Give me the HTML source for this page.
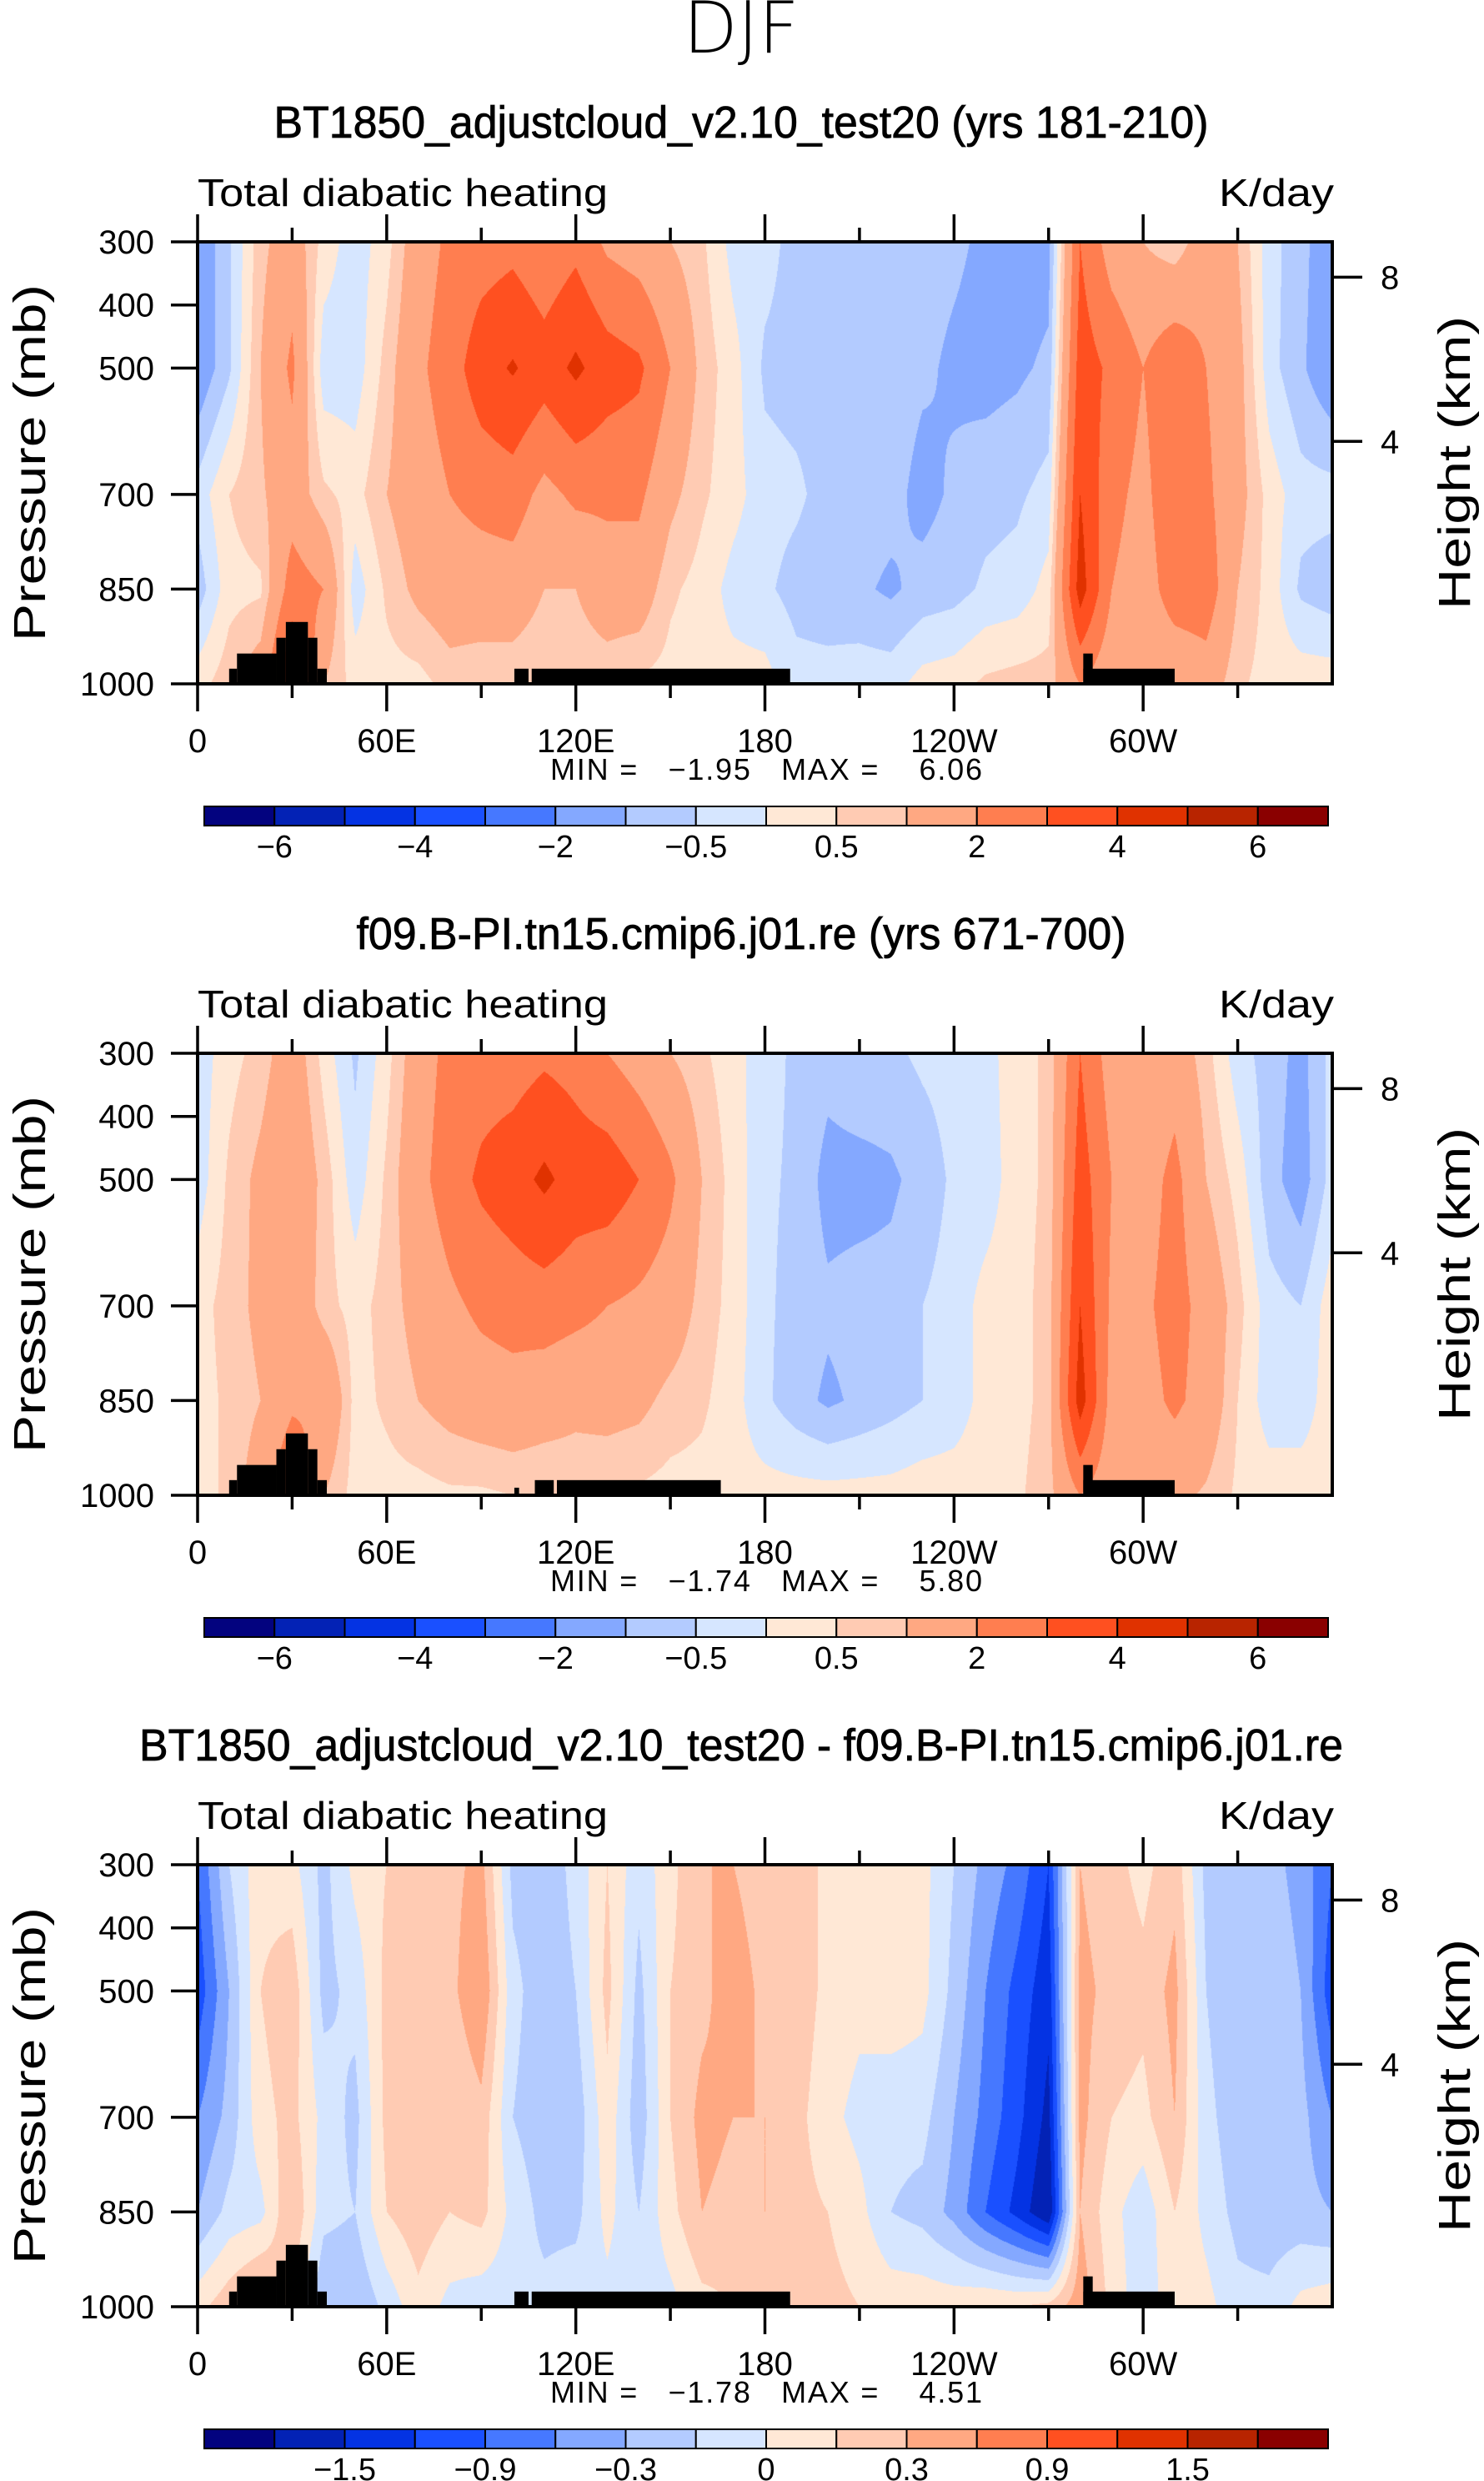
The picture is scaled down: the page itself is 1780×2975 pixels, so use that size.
<!DOCTYPE html>
<html><head><meta charset="utf-8"><style>
html,body{margin:0;padding:0;background:#fff;}
#wrap{position:relative;width:1780px;height:2975px;overflow:hidden;}
canvas{position:absolute;}
svg{position:absolute;left:0;top:0;}
text{font-family:"Liberation Sans",sans-serif;fill:#000;}
</style></head><body>
<div id="wrap">
<canvas id="c0"></canvas>
<canvas id="c1"></canvas>
<canvas id="c2"></canvas>
<svg id="svg" width="1780" height="2975" xmlns="http://www.w3.org/2000/svg">
<text x="889" y="63" font-size="86" text-anchor="middle" textLength="139" lengthAdjust="spacingAndGlyphs" style="font-family:'DejaVu Sans','Liberation Sans',sans-serif;font-weight:200">DJF</text>
</svg>
</div>
<script>
// ---------- data ----------
const pressureLevels = [300, 500, 700, 850, 1000];
const lonNodes = [0,10,20,30,40,50,60,70,80,90,100,110,120,130,140,150,160,170,180,190,200,210,220,230,240,250,260,270,280,290,300,310,320,330,340,350];
// values per longitude node: [300, 500, 700, 850, 1000 mb] in K/day
const fieldA = [
[-1.5,-1.5,-0.3,-0.8,0.3],[-0.6,-0.6,0.5,0.3,0.8],[0.8,1.0,0.9,0.4,1.5],[1.5,2.2,1.5,2.5,4.0],
[0.3,-0.3,0.6,2.0,1.0],[-0.3,-0.3,0.3,-0.3,0.3],[0.3,0.7,1.0,0.6,0.3],[1.5,1.8,1.5,1.2,0.3],
[2.2,2.5,2.0,1.5,0.7],[2.5,3.6,2.3,1.5,0.6],[2.7,4.1,2.5,1.5,0.6],[2.2,3.5,1.7,1.0,0.5],
[2.7,4.2,2.2,1.0,0.6],[1.8,3.5,2.2,1.5,0.6],[1.5,3.2,2.2,1.5,0.4],[1.0,2.0,1.2,0.6,0.3],
[0.6,0.8,0.6,0.3,0.2],[-0.2,0.2,0.2,-0.2,0.2],[-0.3,-0.6,-0.3,-0.4,0.2],[-0.7,-0.7,-0.4,-0.7,-0.3],
[-0.7,-0.7,-0.7,-0.8,-0.3],[-0.7,-0.7,-0.7,-0.9,-0.2],[-0.7,-0.7,-0.8,-1.1,-0.2],[-0.8,-0.9,-1.2,-0.8,0.2],
[-0.9,-1.1,-0.9,-0.7,0.3],[-1.1,-1.2,-0.7,-0.4,0.6],[-1.3,-1.1,-0.6,-0.3,0.7],[-1.2,-0.9,-0.3,0.2,0.7],
[3.0,3.5,4.0,4.5,2.0],[1.5,2.8,2.3,2.0,1.2],[1.0,2.0,1.7,1.5,1.2],[0.6,2.8,2.8,2.5,1.2],
[1.5,2.0,2.2,2.6,1.5],[1.0,1.3,1.3,1.0,0.6],[-0.3,-0.3,0.3,0.3,0.3],[-0.8,-0.9,-0.3,-0.6,0.3]];
const fieldB = [
[-0.3,-0.3,0.3,0.3,0.3],[0.3,0.6,0.7,0.6,0.6],[0.7,1.2,1.2,1.0,1.5],[1.5,1.8,1.8,1.8,3.0],
[0.3,0.8,0.7,2.0,1.0],[-0.6,-0.3,0.3,0.3,0.3],[0.3,0.6,0.7,0.6,0.3],[1.5,1.7,1.3,1.0,0.3],
[2.3,2.5,1.8,1.3,0.4],[2.5,3.2,2.2,1.5,0.4],[2.5,3.6,2.4,1.6,0.5],[2.8,4.2,2.5,1.4,0.5],
[2.6,3.6,2.3,1.2,0.6],[2.0,3.6,2.0,1.3,0.5],[1.5,3.0,1.8,1.2,0.4],[1.0,2.2,1.5,0.8,0.3],
[0.6,1.0,0.8,0.6,0.3],[0.2,0.3,0.3,0.2,0.2],[-0.3,-0.4,-0.4,-0.4,0.2],[-0.6,-0.6,-0.7,-0.8,0.2],
[-0.8,-1.2,-0.9,-1.1,0.2],[-0.6,-1.2,-0.8,-0.9,0.2],[-0.6,-1.1,-0.8,-0.7,0.2],[-0.4,-0.8,-0.5,-0.5,0.3],
[-0.3,-0.4,-0.3,-0.3,0.3],[-0.2,-0.3,0.2,0.2,0.3],[0.3,0.3,0.3,0.3,0.4],[0.6,0.6,0.7,0.7,0.8],
[3.0,3.5,4.0,4.5,2.0],[1.5,2.0,1.8,1.6,1.3],[1.0,1.5,1.8,1.6,1.2],[1.5,2.3,2.4,2.2,1.2],
[0.7,1.0,1.6,1.6,0.9],[-0.3,0.3,0.7,0.5,0.4],[-0.7,-0.8,-0.3,-0.3,0.3],[-1.2,-1.3,-0.5,-0.3,0.3]];
const fieldDiff = [
[-1.2,-1.4,-0.9,-0.6,0.2],[-0.3,-0.6,-0.5,-0.2,0.5],[0.2,0.3,0.2,-0.1,0.8],[0.1,0.5,0.4,0.6,0.3],
[-0.4,-0.4,-0.1,-0.2,-0.6],[0.1,-0.2,-0.4,-0.3,-0.6],[0.3,0.4,0.4,0.3,-0.2],[0.5,0.6,0.6,0.5,0.2],
[0.5,0.5,0.3,0.3,-0.1],[0.7,0.9,0.5,0.4,-0.2],[-0.4,-0.2,-0.3,-0.1,-0.2],[-0.5,-0.5,-0.5,-0.4,-0.2],
[-0.2,-0.3,-0.5,-0.4,-0.1],[0.3,0.4,0.2,0.1,-0.1],[-0.2,-0.4,-0.5,-0.3,-0.2],[0.2,0.3,0.3,0.2,-0.1],
[0.6,0.5,0.7,0.6,0.2],[0.6,0.8,0.6,0.5,0.3],[0.4,0.5,0.6,0.6,0.4],[0.5,0.5,0.4,0.4,0.3],
[0.2,0.2,0.1,0.3,0.4],[0.1,0.1,-0.1,0.1,0.3],[0.3,0.2,-0.2,-0.3,0.2],[0.1,0.1,-0.2,-0.4,0.2],
[-0.3,-0.4,-0.6,-0.7,0.2],[-0.7,-0.9,-1.0,-1.2,0.3],[-1.0,-1.3,-1.4,-1.6,0.3],[-1.5,-1.7,-1.9,-2.1,0.4],
[0.6,0.7,0.7,0.6,0.8],[0.4,0.5,0.3,0.1,0.2],[0.2,0.4,0.2,-0.2,-0.2],[0.5,0.7,0.6,0.3,0.2],
[-0.4,-0.3,-0.2,-0.1,0.1],[-0.6,-0.6,-0.5,-0.4,-0.2],[-0.5,-0.4,-0.3,-0.5,-0.2],[-0.7,-0.6,-0.5,-0.5,0.1]];
const levelsAbs = [-6,-5,-4,-3,-2,-1,-0.5,0,0.5,1,2,3,4,5,6];
const levelsDiff = [-2.1,-1.8,-1.5,-1.2,-0.9,-0.6,-0.3,0,0.3,0.6,0.9,1.2,1.5,1.8,2.1];
const cbarLabelsAbs = ["−6","−4","−2","−0.5","0.5","2","4","6"];
const cbarLabelsDiff = ["−1.5","−0.9","−0.3","0","0.3","0.9","1.5"];
const colors = ["#03037f","#0322b5","#0433e3","#1a50ff","#4678ff","#84a8ff","#b3cbff","#d6e6ff",
 "#ffe8d6","#ffcbb3","#ffa882","#ff7e50","#ff5020","#e03200","#b82400","#8a0000"];
// terrain blocks [lonStart, lonEnd, topPressure]
const terrainA = [[10,12.5,976],[12.5,25,952],[25,28,927],[28,35,902],[35,38,927],[38,41,976],[100.5,105,976],[106,188,976],[281,284,952],[281,310,976]];
const terrainB = [[10,12.5,976],[12.5,25,952],[25,28,927],[28,35,902],[35,38,927],[38,41,976],[100.5,102,988],[107,113,976],[114,166,976],[281,284,952],[281,310,976]];
const xTickLabels = ["0","60E","120E","180","120W","60W"];
const xTickLons = [0,60,120,180,240,300];
const yTickLabels = ["300","400","500","700","850","1000"];
const yTickVals = [300,400,500,700,850,1000];
const hTickLabels = ["8","4"];
const hTickPres = [356,616];
const titles = ["BT1850_adjustcloud_v2.10_test20 (yrs 181-210)","f09.B-PI.tn15.cmip6.j01.re (yrs 671-700)","BT1850_adjustcloud_v2.10_test20 - f09.B-PI.tn15.cmip6.j01.re"];
const minVals = ["−1.95","−1.74","−1.78"];
const maxVals = ["6.06","5.80","4.51"];

// ---------- layout ----------
const PL=237, PR=1598, PW=PR-PL, PH=530, TOP0=290, DY=973;
const titleLens=[1121,923,1444];
const svg=document.getElementById('svg');
const NS='http://www.w3.org/2000/svg';
function mk(tag,attrs,parent){const e=document.createElementNS(NS,tag);for(const k in attrs)e.setAttribute(k,attrs[k]);(parent||svg).appendChild(e);return e;}
function xs(lon){return PL+lon/360*PW;}
function ysF(T){return p=>T+(p-300)/700*PH;}

function sample(field,lon,p){
  let i=0;while(i<pressureLevels.length-2&&p>pressureLevels[i+1])i++;
  const tp=Math.min(1,Math.max(0,(p-pressureLevels[i])/(pressureLevels[i+1]-pressureLevels[i])));
  const n=lonNodes.length;const fl=lon/10;let j=Math.floor(fl)%n;const tl=fl-Math.floor(fl);const j2=(j+1)%n;
  const a=field[j][i]*(1-tp)+field[j][i+1]*tp;
  const b=field[j2][i]*(1-tp)+field[j2][i+1]*tp;
  return a*(1-tl)+b*tl;
}
function hexRGB(h){return [parseInt(h.substr(1,2),16),parseInt(h.substr(3,2),16),parseInt(h.substr(5,2),16)];}
const rgb=colors.map(hexRGB);

const panels=[[fieldA,levelsAbs,terrainA,cbarLabelsAbs,1],[fieldB,levelsAbs,terrainB,cbarLabelsAbs,1],[fieldDiff,levelsDiff,terrainA,cbarLabelsDiff,2]];
panels.forEach((pn,k)=>{
  const [field,levels,terrain,cbl,labStart]=pn;
  const T=TOP0+k*DY; const ys=ysF(T);
  const cv=document.getElementById('c'+k);
  cv.width=PW;cv.height=PH;cv.style.left=PL+'px';cv.style.top=T+'px';
  const ctx=cv.getContext('2d');const img=ctx.createImageData(PW,PH);
  for(let y=0;y<PH;y++){const p=300+(y+0.5)/PH*700;
    for(let x=0;x<PW;x++){const lon=(x+0.5)/PW*360;const v=sample(field,lon,p);
      let b=0;while(b<levels.length&&v>=levels[b])b++;
      const c=rgb[b];const o=(y*PW+x)*4;img.data[o]=c[0];img.data[o+1]=c[1];img.data[o+2]=c[2];img.data[o+3]=255;}}
  ctx.putImageData(img,0,0);
  const g=mk('g',{});
  
  
  terrain.forEach(t=>{const r=mk('rect',{x:xs(t[0]),y:ys(t[2]),width:xs(t[1])-xs(t[0]),height:ys(1000)-ys(t[2]),fill:'#000'},g);
    
    });
  const fr=mk('rect',{x:PL,y:T,width:PW,height:PH,fill:'none',stroke:'#000','stroke-width':4},g);
  
  
  for(let lon=0;lon<=330;lon+=30){const major=lon%60===0;const L=major?33:17;
    mk('line',{x1:xs(lon),x2:xs(lon),y1:T,y2:T-L,stroke:'#000','stroke-width':3.5},g);
    mk('line',{x1:xs(lon),x2:xs(lon),y1:T+PH,y2:T+PH+L,stroke:'#000','stroke-width':3.5},g);}
  xTickLabels.forEach((s,i)=>{const t=mk('text',{x:xs(xTickLons[i]),y:T+612,'font-size':40,'text-anchor':'middle'},g);t.textContent=s;
    
    });
  yTickLabels.forEach((s,i)=>{const y=ys(yTickVals[i]);mk('line',{x1:PL,x2:PL-32,y1:y,y2:y,stroke:'#000','stroke-width':3.5},g);
    const t=mk('text',{x:PL-52,y:y+14,'font-size':40,'text-anchor':'end'},g);t.textContent=s;
    
    });
  hTickLabels.forEach((s,i)=>{const y=ys(hTickPres[i]);mk('line',{x1:PR,x2:PR+36,y1:y,y2:y,stroke:'#000','stroke-width':3.5},g);
    const t=mk('text',{x:PR+58,y:y+14,'font-size':40,'text-anchor':'start'},g);t.textContent=s;
    
    });
  const tt=mk('text',{x:889,y:T-125,'font-size':54,'text-anchor':'middle',textLength:titleLens[k],lengthAdjust:'spacingAndGlyphs',style:'stroke:#000;stroke-width:0.8'},g);tt.textContent=titles[k];
  
  
  const st=mk('text',{x:PL,y:T-43,'font-size':46,textLength:492,lengthAdjust:'spacingAndGlyphs'},g);st.textContent='Total diabatic heating';
  
  
  const ut=mk('text',{x:PR+2,y:T-43,'font-size':46,'text-anchor':'end',textLength:138,lengthAdjust:'spacingAndGlyphs'},g);ut.textContent='K/day';
  
  
  const py=T+PH/2;
  const pl=mk('text',{x:0,y:0,'font-size':54,'text-anchor':'middle',textLength:428,lengthAdjust:'spacingAndGlyphs',transform:`translate(54,${py}) rotate(-90)`},g);pl.textContent='Pressure (mb)';
  
  
  const hl=mk('text',{x:0,y:0,'font-size':54,'text-anchor':'middle',textLength:352,lengthAdjust:'spacingAndGlyphs',transform:`translate(1763,${py}) rotate(-90)`},g);hl.textContent='Height (km)';
  
  
  const mm=mk('text',{x:660,y:T+645,'font-size':36,style:'white-space:pre',textLength:518,lengthAdjust:'spacing'},g);
  mm.textContent='MIN =   '+minVals[k]+'   MAX =    '+maxVals[k];
  
  
  const CX=245,CW=1348,CY=T+677,CH=23,bw=CW/16;
  colors.forEach((c,i)=>{const r=mk('rect',{x:CX+i*bw,y:CY,width:bw,height:CH,fill:c,stroke:'#000','stroke-width':2},g);
    
    });
  cbl.forEach((s,i)=>{const t=mk('text',{x:CX+(labStart+i*2)*bw,y:T+738,'font-size':38,'text-anchor':'middle'},g);t.textContent=s;
    
    });
});
</script>
</body></html>
